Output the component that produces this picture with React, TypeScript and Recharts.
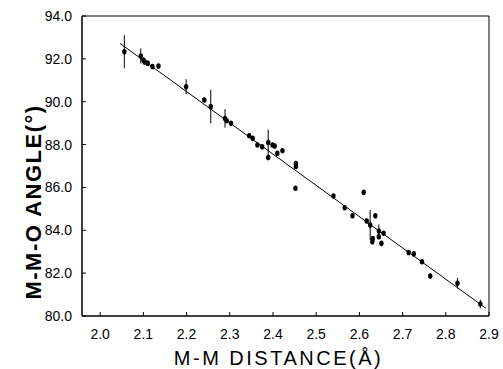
import React from 'react';
import { ScatterChart, Scatter, XAxis, YAxis, ErrorBar, ReferenceLine, ReferenceArea } from 'recharts';

// M-M distance (Å), M-M-O angle (deg), vertical error (deg)
const distances = [
  2.056, 2.094, 2.1, 2.103, 2.11, 2.121, 2.135, 2.199, 2.241, 2.256,
  2.289, 2.293, 2.303, 2.345, 2.353, 2.364, 2.375, 2.389, 2.389, 2.399,
  2.404, 2.41, 2.422, 2.453, 2.453, 2.452, 2.54, 2.566, 2.584, 2.61,
  2.617, 2.625, 2.637, 2.63, 2.631, 2.645, 2.645, 2.651, 2.656, 2.714,
  2.726, 2.745, 2.764, 2.827, 2.88,
];
const angles = [
  92.33, 92.13, 91.95, 91.85, 91.8, 91.64, 91.67, 90.7, 90.08, 89.77,
  89.22, 89.11, 88.99, 88.41, 88.29, 87.98, 87.9, 88.1, 87.4, 87.98,
  87.93, 87.59, 87.71, 87.12, 86.98, 85.96, 85.6, 85.05, 84.68, 85.77,
  84.43, 84.25, 84.68, 83.47, 83.62, 83.97, 83.7, 83.39, 83.86, 82.96,
  82.9, 82.53, 81.87, 81.53, 80.56,
];
const errors = [
  0.77, 0.35, 0, 0, 0, 0, 0, 0.35, 0, 0.78,
  0.43, 0, 0, 0, 0, 0, 0, 0.6, 0, 0,
  0, 0, 0, 0, 0, 0, 0, 0, 0, 0,
  0, 0.7, 0, 0, 0, 0.3, 0, 0, 0, 0,
  0, 0, 0, 0.25, 0.2,
];

// least-squares line drawn in the figure
const fitLine = [
  { x: 2.046, y: 92.72 },
  { x: 2.893, y: 80.36 },
];

const xTicks = [2.0, 2.1, 2.2, 2.3, 2.4, 2.5, 2.6, 2.7, 2.8, 2.9];
const yTicks = [80, 82, 84, 86, 88, 90, 92, 94];

const points = distances.map((d, i) => ({ x: d, y: angles[i], err: errors[i] }));

const FONT = '"Liberation Sans", Arial, sans-serif';

const Dot = (props: any) => {
  const { cx, cy } = props;
  return <ellipse cx={cx} cy={cy} rx={2.2} ry={2.8} fill="#000" />;
};

const YLabel = (props: any) => {
  const vb = props.viewBox || { x: 0, y: 16, width: 82, height: 300 };
  const cx = vb.x + 33;
  const cy = vb.y + vb.height / 2 + 36;
  return (
    <text
      x={cx}
      y={cy}
      transform={`rotate(-90, ${cx}, ${cy})`}
      textAnchor="middle"
      dominantBaseline="central"
      fill="#000"
      fontSize={22}
      fontWeight="bold"
      fontFamily={FONT}
      style={{ letterSpacing: 1.5 }}
    >
      M-M-O ANGLE(°)
    </text>
  );
};

const App: React.FC = () => {
  return (
    <div style={{ position: 'absolute', left: 0, top: 0, background: '#fff' }}>
      <ScatterChart width={503} height={369} margin={{ top: 16, right: 14, bottom: 0, left: 0 }}>
        <XAxis
          type="number"
          dataKey="x"
          domain={[1.958, 2.9]}
          ticks={xTicks}
          tickFormatter={(v: number) => v.toFixed(1)}
          height={53}
          axisLine={{ stroke: '#000' }}
          tickLine={{ stroke: '#000' }}
          tickSize={-4}
          tickMargin={17}
          tick={{ fill: '#000', fontSize: 14, fontFamily: FONT }}
          label={{
            value: 'M-M DISTANCE(Å)',
            position: 'insideBottom',
            offset: 4,
            dx: -7,
            fill: '#000',
            fontSize: 20,
            fontFamily: FONT,
            style: { letterSpacing: 2.5 },
          }}
        />
        <YAxis
          type="number"
          dataKey="y"
          domain={[80, 94]}
          ticks={yTicks}
          tickFormatter={(v: number) => v.toFixed(1)}
          width={82}
          axisLine={{ stroke: '#000' }}
          tickLine={{ stroke: '#000' }}
          tickSize={-4}
          tickMargin={14}
          tick={{ fill: '#000', fontSize: 14, fontFamily: FONT }}
          label={YLabel}
        />
        <ReferenceArea x1={1.958} x2={2.9} y1={80} y2={94} fill="none" stroke="#000" strokeWidth={1} ifOverflow="visible" />
        <ReferenceLine segment={fitLine} stroke="#000" strokeWidth={1} ifOverflow="visible" />
        <Scatter data={points} shape={Dot} isAnimationActive={false}>
          <ErrorBar dataKey="err" direction="y" width={0} stroke="#000" strokeWidth={1} />
        </Scatter>
      </ScatterChart>
    </div>
  );
};

export default App;
